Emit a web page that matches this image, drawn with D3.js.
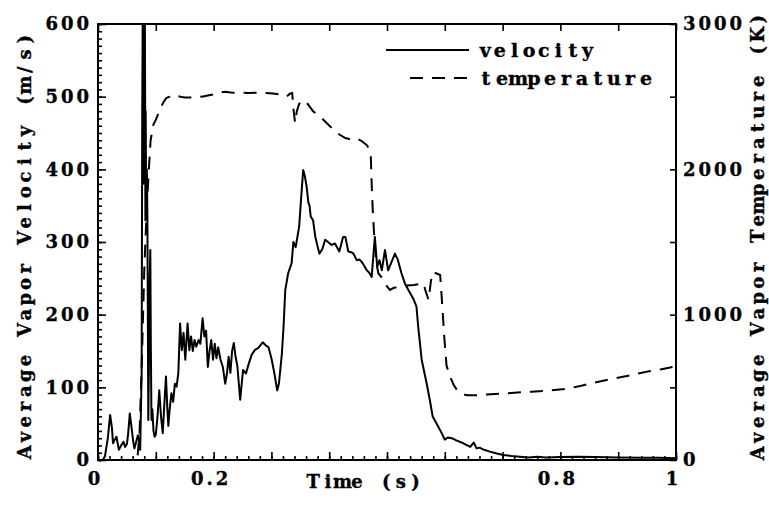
<!DOCTYPE html>
<html><head><meta charset="utf-8">
<script src="https://cdn.jsdelivr.net/npm/d3@7"></script>
<style>
html,body{margin:0;padding:0;background:#fff;}
svg{display:block;}
text{font-family:"DejaVu Serif",serif;font-weight:bold;fill:#000;white-space:pre;stroke:#000;stroke-width:0.35px;}
</style></head>
<body>
<svg id="chart" width="769" height="515"></svg>
<script>
// ---- data ----
const velTime = [0,0.008,0.012,0.017,0.021,0.024,0.026,0.029,0.032,0.036,0.04,0.044,0.047,0.05,0.052,0.055,0.058,0.061,0.063,0.066,0.069,0.071,0.073,
0.0755,0.0765,0.0775,0.0785,0.079,0.0795,0.08,0.0805,0.081,0.0815,0.082,0.0825,0.083,0.0838,0.0845,0.0855,0.087,0.088,0.0895,0.0905,0.0915,0.0925,0.094,0.096,0.098,
0.1,0.103,0.106,0.109,0.112,0.115,0.1176,0.12,0.1217,0.124,0.127,0.13,0.133,0.136,0.139,0.142,0.145,0.148,0.151,0.155,0.158,0.161,0.164,0.167,0.17,0.174,0.177,0.181,0.184,0.187,0.19,0.193,0.196,0.199,0.202,0.205,0.208,0.212,0.216,0.22,0.223,0.226,0.229,0.232,0.235,0.238,0.241,0.246,0.251,0.256,0.261,0.266,0.272,0.277,0.285,0.29,0.295,0.3,0.305,0.31,0.313,0.318,0.321,0.324,0.329,0.335,0.338,0.342,0.348,0.352,0.355,0.358,0.361,0.364,0.366,0.368,0.372,0.376,0.383,0.388,0.393,0.398,0.404,0.41,0.4175,0.424,0.428,0.433,0.438,0.442,0.4475,0.452,0.456,0.46,0.465,0.469,0.4735,0.479,0.483,0.487,0.491,0.4965,0.502,0.507,0.5138,0.519,0.525,0.531,0.537,0.5455,0.551,0.554,0.56,0.5687,0.574,0.579,0.586,0.5946,0.6,0.605,0.612,0.62,0.632,0.644,0.65,0.655,0.66,0.668,0.678,0.69,0.701,0.715,0.73,0.745,0.76,0.775,0.8,0.83,0.86,0.9,0.94,0.97,1.0];
const velocity = [0,0,5,30,62,45,23,28,32,14,20,25,18,22,35,64,45,25,16,25,34,25,14,
120,470,640,380,640,520,640,500,640,510,330,480,400,370,400,330,55,120,250,289,150,55,70,40,32,
35,60,96,60,37,80,115,70,47,70,92,80,105,101,120,188,151,175,138,188,151,170,150,165,156,165,160,195,170,178,128,150,165,138,160,140,155,138,128,105,118,142,120,150,161,142,130,83,124,119,133,145,152,154,162,158,155,140,120,96,105,145,183,234,257,271,300,293,321,367,399,390,376,354,350,335,330,307,284,290,303,300,296,298,287,307,307,287,286,284,275,276,273,268,261,258,252,307,266,275,261,289,261,271,284,275,257,243,234,222,211,183,138,105,83,60,50,37,28,31,30,27,23,18,24,16,17,14,11.5,9,7,5.5,4.5,3.5,4.5,3.5,4,4.5,4,3.5,3,3,2.5];

const tempTime = [0,0.068,0.072,0.076,0.08,0.084,0.088,0.091,0.096,0.1,0.104,0.108,0.113,0.118,0.124,0.13,0.136,0.142,0.15,0.16,0.17,0.18,0.19,0.2,0.21,0.22,0.23,0.245,0.26,0.275,0.29,0.303,0.315,0.321,0.326,0.332,0.336,0.338,0.341,0.344,0.348,0.355,0.36,0.372,0.385,0.396,0.408,0.419,0.428,0.436,0.442,0.448,0.456,0.465,0.469,0.472,0.4735,0.475,0.477,0.479,0.482,0.485,0.49,0.494,0.5,0.505,0.512,0.523,0.535,0.546,0.556,0.563,0.567,0.572,0.575,0.578,0.585,0.592,0.595,0.599,0.603,0.609,0.615,0.621,0.63,0.638,0.655,0.672,0.7,0.72,0.75,0.78,0.81,0.83,0.85,0.88,0.92,0.95,0.975,1.0];
const temperature = [0,0,200,700,1300,1700,2000,2200,2310,2340,2380,2420,2460,2490,2500,2512,2510,2500,2495,2495,2502,2500,2508,2515,2530,2533,2528,2527,2526,2527,2525,2522,2515,2510,2500,2520,2525,2420,2320,2400,2450,2475,2465,2400,2360,2317,2270,2236,2215,2207,2215,2213,2195,2167,2140,2087,1900,1750,1600,1468,1350,1285,1260,1239,1195,1170,1185,1192,1200,1204,1210,1216,1160,1101,1200,1290,1285,1273,1100,850,650,575,520,482,455,445,445,450,457,463,470,477,490,505,525,550,582,608,625,645];

const xLabelTicks = [0,0.2,0.8,1];
const vLabelTicks = [0,100,200,300,400,500,600];
const tLabelTicks = [0,1000,2000,3000];
const seriesNames = ["velocity","temperature"];
const xTitle = "Time (s)";
const yLeftTitle = "Average Vapor Velocity (m/s)";
const yRightTitle = "Average Vapor Temperature (K)";

// ---- layout ----
const L = 98, R = 676, T = 24, B = 460;
const svg = d3.select("#chart");
svg.append("rect").attr("width",769).attr("height",515).attr("fill","#fff");

const x = d3.scaleLinear().domain([0,1]).range([L,R]);
const yV = d3.scaleLinear().domain([0,600]).range([B,T]);
const yT = d3.scaleLinear().domain([0,3000]).range([B,T]);

const FS = 18, LS = 3;
function styleAxis(g){
  g.select(".domain").remove();
  g.selectAll(".tick line").attr("stroke","#000").attr("stroke-width",1.6);
  g.selectAll("text").attr("font-size",FS).attr("letter-spacing",LS)
    .attr("font-family","DejaVu Serif").attr("font-weight","bold").attr("fill","#000");
}
const rng = (a,b,s)=>d3.range(Math.round((b-a)/s)+1).map(i=>+(a+i*s).toFixed(6));

// bottom axis
svg.append("g").attr("transform",`translate(0,${B})`)
  .call(d3.axisBottom(x).tickValues(rng(0,1,0.02)).tickSize(-4).tickFormat("")).call(styleAxis);
svg.append("g").attr("transform",`translate(0,${B})`)
  .call(d3.axisBottom(x).tickValues(rng(0,1,0.1)).tickSize(-8).tickFormat("")).call(styleAxis);
svg.append("g").attr("transform",`translate(0,${B})`)
  .call(d3.axisBottom(x).tickValues(xLabelTicks).tickSize(0).tickPadding(12).tickFormat(d3.format("")))
  .call(styleAxis).selectAll("text").attr("dx",-3);
// top axis
svg.append("g").attr("transform",`translate(0,${T})`)
  .call(d3.axisTop(x).tickValues(rng(0,1,0.1)).tickSize(-7).tickFormat("")).call(styleAxis);
// left axis
svg.append("g").attr("transform",`translate(${L},0)`)
  .call(d3.axisLeft(yV).tickValues(rng(0,600,10)).tickSize(-4).tickFormat("")).call(styleAxis);
svg.append("g").attr("transform",`translate(${L},0)`)
  .call(d3.axisLeft(yV).tickValues(vLabelTicks).tickSize(-8).tickPadding(6).tickFormat(d3.format("d"))).call(styleAxis);
// right axis
svg.append("g").attr("transform",`translate(${R},0)`)
  .call(d3.axisRight(yT).tickValues(rng(0,3000,500)).tickSize(-6).tickFormat("")).call(styleAxis);
svg.append("g").attr("transform",`translate(${R},0)`)
  .call(d3.axisRight(yT).tickValues(tLabelTicks).tickSize(0).tickPadding(7).tickFormat(d3.format("d"))).call(styleAxis);

// frame
svg.append("rect").attr("x",L).attr("y",T).attr("width",R-L).attr("height",B-T)
  .attr("fill","none").attr("stroke","#000").attr("stroke-width",2);

// clip
svg.append("clipPath").attr("id","clip").append("rect").attr("x",L).attr("y",T).attr("width",R-L).attr("height",B-T);

const velLine = d3.line().x((d,i)=>x(velTime[i])).y(d=>yV(d));
const tempLine = d3.line().x((d,i)=>x(tempTime[i])).y(d=>yT(d));

svg.append("path").datum(temperature).attr("d",tempLine).attr("clip-path","url(#clip)")
  .attr("fill","none").attr("stroke","#000").attr("stroke-width",2).attr("stroke-dasharray","13,9");
svg.append("path").datum(velocity).attr("d",velLine).attr("clip-path","url(#clip)")
  .attr("fill","none").attr("stroke","#000").attr("stroke-width",2).attr("stroke-linejoin","round");

// monospaced text helper
function mono(str, x0, y0, cell, rot, fs){
  const g = svg.append("g").attr("transform",`translate(${x0},${y0}) rotate(${rot||0})`);
  g.append("text").attr("font-size",fs||FS).attr("text-anchor","middle")
    .attr("x",[...str].map((c,i)=>((i+0.5)*cell).toFixed(1)).join(" ")).attr("y",0).text(str);
}
// titles
mono(xTitle, 306, 488, 14.6, 0);
mono(yLeftTitle, 31, 460, 15.3, -90);
mono(yRightTitle, 764, 461, 15.5, -90);

// legend
svg.append("line").attr("x1",386).attr("x2",469).attr("y1",50).attr("y2",50)
  .attr("stroke","#000").attr("stroke-width",2);
svg.append("line").attr("x1",410).attr("x2",470).attr("y1",78).attr("y2",78)
  .attr("stroke","#000").attr("stroke-width",2).attr("stroke-dasharray","13,9");
mono(seriesNames[0], 478, 57, 14.6, 0, 19);
mono(seriesNames[1], 478, 85, 16, 0, 19);
</script>
</body></html>
